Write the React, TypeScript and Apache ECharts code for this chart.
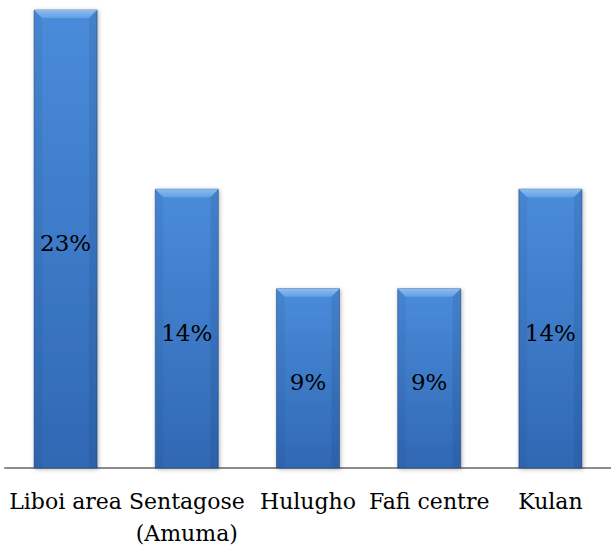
import React, { useEffect, useRef } from "react";
import * as echarts from "echarts";

const categories = ["Liboi area", "Sentagose\n(Amuma)", "Hulugho", "Fafi centre", "Kulan"];
const values = [23, 14, 9, 9, 14];
const FONT = "DejaVu Serif";

export default function App() {
  const ref = useRef<HTMLDivElement>(null);
  useEffect(() => {
    const chart = echarts.init(ref.current!, null, { renderer: "svg" });
    const renderItem = (params: any, api: any) => {
      const idx = api.value(0);
      const v = api.value(1);
      const top = api.coord([idx, v]);
      const base = api.coord([idx, 0]);
      const bw = api.size([1, 0])[0] * 0.52;
      const l = top[0] - bw / 2;
      const r = top[0] + bw / 2;
      const t = top[1];
      const b = base[1];
      const h = b - t;
      const bev = 8;
      return {
        type: "group",
        children: [
          {
            type: "rect",
            shape: { x: l, y: t, width: bw, height: h },
            style: {
              fill: new echarts.graphic.LinearGradient(0, 0, 0, 1, [
                { offset: 0, color: "#4a8cda" },
                { offset: 1, color: "#3068b4" },
              ]),
              stroke: "rgba(30,60,110,0.5)",
              lineWidth: 1,
              shadowBlur: 4,
              shadowColor: "rgba(0,0,0,0.3)",
              shadowOffsetX: 1,
              shadowOffsetY: 1,
            },
          },
          {
            type: "polygon",
            shape: { points: [[l, t], [r, t], [r - bev, t + bev], [l + bev, t + bev]] },
            style: {
              fill: new echarts.graphic.LinearGradient(0, 0, 0, 1, [
                { offset: 0, color: "#8cbcf0" },
                { offset: 1, color: "#62a0e4" },
              ]),
            },
          },
          {
            type: "polygon",
            shape: { points: [[l, t], [l + bev, t + bev], [l + bev, b], [l, b]] },
            style: { fill: "rgba(20,50,100,0.08)" },
          },
          {
            type: "polygon",
            shape: { points: [[r, t], [r - bev, t + bev], [r - bev, b], [r, b]] },
            style: { fill: "rgba(20,50,100,0.12)" },
          },
          {
            type: "text",
            style: {
              text: v + "%",
              x: top[0],
              y: t + h / 2 + 4,
              align: "center",
              verticalAlign: "middle",
              fill: "#000",
              fontFamily: FONT,
              fontSize: 23,
            },
          },
        ],
      };
    };
    chart.setOption({
      animation: false,
      grid: { left: 5, right: -3, top: 10, bottom: 83, containLabel: false },
      xAxis: {
        type: "category",
        data: categories,
        axisLine: { lineStyle: { color: "#8c8c8c", width: 2 } },
        axisTick: { show: false },
        axisLabel: {
          interval: 0,
          color: "#000",
          fontFamily: FONT,
          fontSize: 22,
          lineHeight: 32,
          margin: 17,
        },
      },
      yAxis: { type: "value", min: 0, max: 23, show: false, splitLine: { show: false } },
      series: [
        {
          type: "custom",
          renderItem,
          data: values.map((v, i) => [i, v]),
          encode: { x: 0, y: 1 },
          clip: false,
        },
      ],
    });
    return () => chart.dispose();
  }, []);
  return <div ref={ref} style={{ width: 611, height: 551, position: "absolute", left: 0, top: 0, background: "#fff" }} />;
}
